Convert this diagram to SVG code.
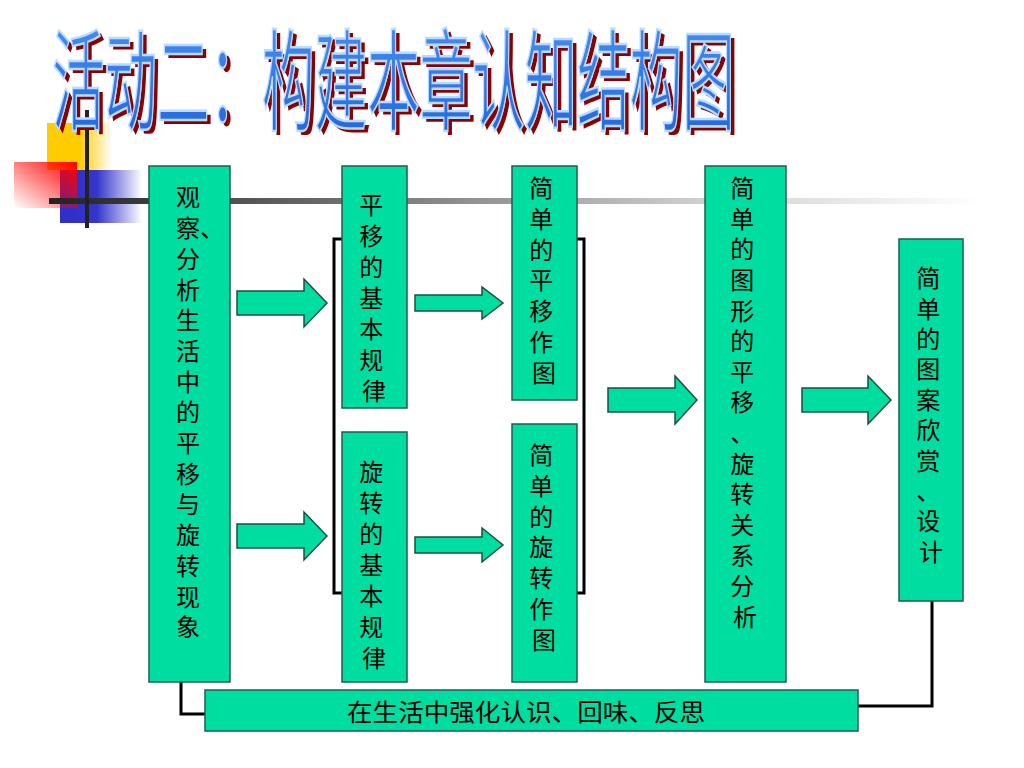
<svg xmlns="http://www.w3.org/2000/svg" width="1024" height="768" viewBox="0 0 1024 768">
<defs>
<style>
.box{fill:#00DDA0;stroke:#1d5e4e;stroke-width:1.5}
.arrow{fill:#00DDA0;stroke:#1d4e40;stroke-width:1.5}
.lbl{font-family:"Noto Sans CJK SC","Noto Sans",sans-serif;font-size:24px;fill:#000}
.conn{fill:none;stroke:#000;stroke-width:3}
.title{font-family:"Noto Sans CJK SC","Noto Sans",sans-serif;font-size:110px}
</style>
<linearGradient id="gLine" x1="49" y1="0" x2="980" y2="0" gradientUnits="userSpaceOnUse">
<stop offset="0" stop-color="#222"/>
<stop offset="0.35" stop-color="#777"/>
<stop offset="0.7" stop-color="#cfcfcf"/>
<stop offset="1" stop-color="#fff"/>
</linearGradient>
<linearGradient id="gYel" x1="0" y1="0" x2="1" y2="0">
<stop offset="0" stop-color="#FFCC00"/>
<stop offset="0.5" stop-color="#FFCC00"/>
<stop offset="1" stop-color="#FFCC00" stop-opacity="0"/>
</linearGradient>
<linearGradient id="gBlue" x1="0" y1="0" x2="1" y2="0">
<stop offset="0" stop-color="#2E2EC8"/>
<stop offset="0.45" stop-color="#3535CC"/>
<stop offset="1" stop-color="#3535CC" stop-opacity="0"/>
</linearGradient>
<linearGradient id="gRed" x1="1" y1="0" x2="0" y2="1">
<stop offset="0" stop-color="#FF0000"/>
<stop offset="1" stop-color="#FF0000" stop-opacity="0"/>
</linearGradient>
<linearGradient id="gTitle" x1="0" y1="0" x2="0" y2="1">
<stop offset="0" stop-color="#4F95F5"/>
<stop offset="1" stop-color="#1E62DA"/>
</linearGradient>
</defs>
<rect width="1024" height="768" fill="#fff"/>

<g id="decor">
<rect x="47" y="123" width="65" height="47" fill="url(#gYel)"/>
<rect x="60" y="170" width="82" height="53" fill="url(#gBlue)"/>
<rect x="14" y="162" width="63" height="46" fill="url(#gRed)"/>
<rect x="49" y="198" width="935" height="6" fill="url(#gLine)"/>
<rect x="85" y="110" width="4" height="118" fill="#222"/>
</g>

<g id="title">
<text class="title" transform="translate(56,126) scale(0.4776,1)" x="0" y="0" fill="#8B0000">活动二：构建本章认知结构图</text>
<text class="title" transform="translate(52,122) scale(0.4776,1)" x="0" y="0" fill="url(#gTitle)" stroke="#B8DCFF" stroke-width="2.5">活动二：构建本章认知结构图</text>
</g>

<g id="connectors">
<path class="conn" d="M342,239 H334 V593 H342"/>
<path class="conn" d="M577,239 H584 V593 H577"/>
<path class="conn" d="M181,682 V714 H205"/>
<path class="conn" d="M932,601 V706 H858"/>
<polygon class="arrow" points="237,291 304,291 304,279 327,303 304,327 304,315 237,315"/>
<polygon class="arrow" points="237,524 304,524 304,512 327,536 304,560 304,548 237,548"/>
<polygon class="arrow" points="415,295 482,295 482,287 503,303 482,319 482,311 415,311"/>
<polygon class="arrow" points="415,537 482,537 482,528 503,545 482,562 482,553 415,553"/>
<polygon class="arrow" points="608,388 675,388 675,376 697,400 675,424 675,412 608,412"/>
<polygon class="arrow" points="802,388 868,388 868,376 891,400 868,424 868,412 802,412"/>
</g>

<g id="nodeA">
<rect class="box" x="149" y="166" width="81" height="516"/>
<text class="lbl">
<tspan x="176" y="206">观</tspan>
<tspan x="176" y="237">察、</tspan>
<tspan x="176" y="268">分</tspan>
<tspan x="176" y="299">析</tspan>
<tspan x="176" y="329">生</tspan>
<tspan x="176" y="360">活</tspan>
<tspan x="176" y="391">中</tspan>
<tspan x="176" y="421">的</tspan>
<tspan x="176" y="452">平</tspan>
<tspan x="176" y="483">移</tspan>
<tspan x="176" y="513">与</tspan>
<tspan x="176" y="544">旋</tspan>
<tspan x="176" y="575">转</tspan>
<tspan x="176" y="606">现</tspan>
<tspan x="176" y="636">象</tspan>
</text>
</g>

<g id="nodeB">
<rect class="box" x="342" y="166" width="65" height="242"/>
<text class="lbl" text-anchor="middle">
<tspan x="374" y="214">平</tspan>
<tspan x="374" y="245">移</tspan>
<tspan x="374" y="276">的</tspan>
<tspan x="374" y="307">基</tspan>
<tspan x="374" y="338">本</tspan>
<tspan x="374" y="369">规</tspan>
<tspan x="374" y="400">律</tspan>
</text>
</g>

<g id="nodeC">
<rect class="box" x="342" y="432" width="65" height="250"/>
<text class="lbl" text-anchor="middle">
<tspan x="374" y="481">旋</tspan>
<tspan x="374" y="512">转</tspan>
<tspan x="374" y="543">的</tspan>
<tspan x="374" y="574">基</tspan>
<tspan x="374" y="605">本</tspan>
<tspan x="374" y="636">规</tspan>
<tspan x="374" y="667">律</tspan>
</text>
</g>

<g id="nodeD">
<rect class="box" x="512" y="166" width="65" height="234"/>
<text class="lbl" text-anchor="middle">
<tspan x="544" y="197">简</tspan>
<tspan x="544" y="228">单</tspan>
<tspan x="544" y="259">的</tspan>
<tspan x="544" y="289">平</tspan>
<tspan x="544" y="320">移</tspan>
<tspan x="544" y="351">作</tspan>
<tspan x="544" y="382">图</tspan>
</text>
</g>

<g id="nodeE">
<rect class="box" x="512" y="424" width="65" height="258"/>
<text class="lbl" text-anchor="middle">
<tspan x="544" y="464">简</tspan>
<tspan x="544" y="495">单</tspan>
<tspan x="544" y="526">的</tspan>
<tspan x="544" y="556">旋</tspan>
<tspan x="544" y="587">转</tspan>
<tspan x="544" y="618">作</tspan>
<tspan x="544" y="649">图</tspan>
</text>
</g>

<g id="nodeF">
<rect class="box" x="705" y="166" width="81" height="516"/>
<text class="lbl" text-anchor="middle">
<tspan x="745" y="197">简</tspan>
<tspan x="745" y="228">单</tspan>
<tspan x="745" y="258">的</tspan>
<tspan x="745" y="289">图</tspan>
<tspan x="745" y="320">形</tspan>
<tspan x="745" y="350">的</tspan>
<tspan x="745" y="381">平</tspan>
<tspan x="745" y="411">移</tspan>
<tspan x="745" y="442">、</tspan>
<tspan x="745" y="473">旋</tspan>
<tspan x="745" y="503">转</tspan>
<tspan x="745" y="534">关</tspan>
<tspan x="745" y="565">系</tspan>
<tspan x="745" y="595">分</tspan>
<tspan x="745" y="626">析</tspan>
</text>
</g>

<g id="nodeG">
<rect class="box" x="899" y="239" width="64" height="362"/>
<text class="lbl" text-anchor="middle">
<tspan x="931" y="287">简</tspan>
<tspan x="931" y="318">单</tspan>
<tspan x="931" y="348">的</tspan>
<tspan x="931" y="378">图</tspan>
<tspan x="931" y="409">案</tspan>
<tspan x="931" y="439">欣</tspan>
<tspan x="931" y="470">赏</tspan>
<tspan x="931" y="500">、</tspan>
<tspan x="931" y="530">设</tspan>
<tspan x="931" y="561">计</tspan>
</text>
</g>

<g id="nodeH">
<rect class="box" x="205" y="690" width="653" height="41"/>
<text class="lbl" x="347" y="721" textLength="358" lengthAdjust="spacingAndGlyphs">在生活中强化认识、回味、反思</text>
</g>
</svg>
